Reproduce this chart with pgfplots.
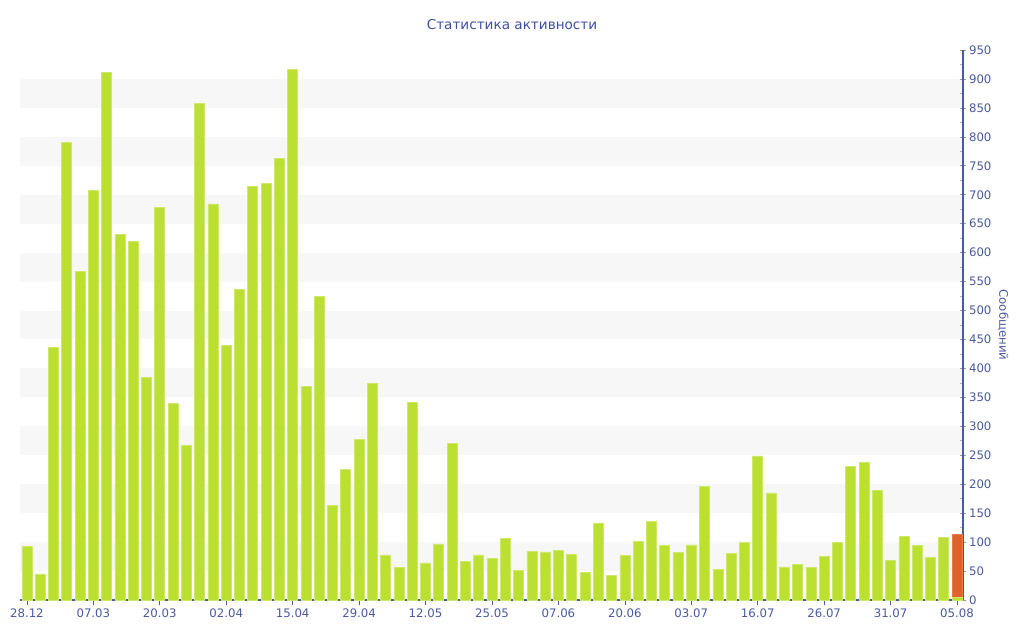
\documentclass[border=0pt]{standalone}
\usepackage{pgfplots}
\pgfplotsset{compat=1.18}
\usepackage{pgfplotstable}
\usepackage{fontspec}
\setmainfont{DejaVu Sans}
\definecolor{barg}{HTML}{BCE032}
\definecolor{bargedge}{HTML}{CDE86A}
\definecolor{baro}{HTML}{E0622C}
\definecolor{axblue}{HTML}{4A5AA0}
\definecolor{titleblue}{HTML}{3E50A0}
\definecolor{band}{HTML}{F7F7F7}
\pgfplotstableread{
x y
0 92
1 45
2 436
3 790
4 568
5 708
6 911
7 631
8 620
9 385
10 678
11 340
12 267
13 858
14 684
15 440
16 536
17 714
18 719
19 763
20 916
21 369
22 525
23 164
24 225
25 277
26 374
27 78
28 56
29 341
30 64
31 97
32 271
33 66
34 78
35 72
36 107
37 51
38 84
39 83
40 86
41 79
42 47
43 133
44 43
45 77
46 101
47 136
48 94
49 82
50 95
51 196
52 53
53 80
54 99
55 249
56 185
57 57
58 61
59 56
60 75
61 100
62 231
63 238
64 189
65 68
66 110
67 94
68 74
69 108
70 5
}\green
\pgfplotstableread{
x y
70 113
}\orange
\begin{document}
\begin{tikzpicture}
% background bands
\begin{axis}[
  name=bg,
  scale only axis,
  width=707.25bp, height=412.5bp,
  xmin=-0.52, xmax=70.45,
  ymin=0, ymax=950,
  axis lines=none, ticks=none,
]
\fill[band] (axis cs:-0.52,50) rectangle (axis cs:70.45,100);
\fill[band] (axis cs:-0.52,150) rectangle (axis cs:70.45,200);
\fill[band] (axis cs:-0.52,250) rectangle (axis cs:70.45,300);
\fill[band] (axis cs:-0.52,350) rectangle (axis cs:70.45,400);
\fill[band] (axis cs:-0.52,450) rectangle (axis cs:70.45,500);
\fill[band] (axis cs:-0.52,550) rectangle (axis cs:70.45,600);
\fill[band] (axis cs:-0.52,650) rectangle (axis cs:70.45,700);
\fill[band] (axis cs:-0.52,750) rectangle (axis cs:70.45,800);
\fill[band] (axis cs:-0.52,850) rectangle (axis cs:70.45,900);
\end{axis}
\begin{axis}[
  name=ax,
  scale only axis,
  width=707.25bp, height=412.5bp,
  xmin=-0.52, xmax=70.45,
  ymin=0, ymax=950,
  axis y line=right,
  axis x line=bottom,
  axis line style={axblue, line width=0.8bp, -},
  ybar, bar shift=0pt,
  bar width=7.5bp,
  xtick={0,5,...,70},
  xticklabels={28.12,07.03,20.03,02.04,15.04,29.04,12.05,25.05,07.06,20.06,03.07,16.07,26.07,31.07,05.08},
  ytick={0,50,...,950},
  minor y tick num=1,
  x tick style={axblue, line width=0.5bp},
  y tick style={gray!80, line width=0.5bp},
  ytick align=center,
  xtick align=outside,
  major tick length=4bp,
  minor tick length=2.5bp,
  every minor y tick/.style={gray!60, line width=0.5bp, xshift=-1.25bp},
  tick label style={font=\fontsize{8.8bp}{10bp}\selectfont, text=axblue},
  /pgf/number format/assume math mode=true,
  /pgf/number format/1000 sep={},
  yticklabel style={xshift=-1bp},
  xticklabel style={yshift=1bp},
  ylabel={Сообщений},
  every axis y label/.style={at={(rel axis cs:1,0.5)}, xshift=30bp, rotate=-90, anchor=center, font=\fontsize{8.8bp}{10bp}\selectfont, text=axblue},
  clip=false,
]
\addplot[fill=baro, draw=baro!85!white, line width=0.5bp] table[x=x,y=y] {\orange};
\addplot[fill=barg, draw=bargedge, line width=0.5bp] table[x=x,y=y] {\green};
\end{axis}
\path ([xshift=-15bp,yshift=-30bp]ax.south west) rectangle ([xshift=753bp,yshift=450bp]ax.south west);
\node[text=titleblue, font=\fontsize{10.2bp}{12bp}\selectfont] at ([xshift=369bp,yshift=431.25bp]ax.south west) {Статистика активности};
\end{tikzpicture}
\end{document}
